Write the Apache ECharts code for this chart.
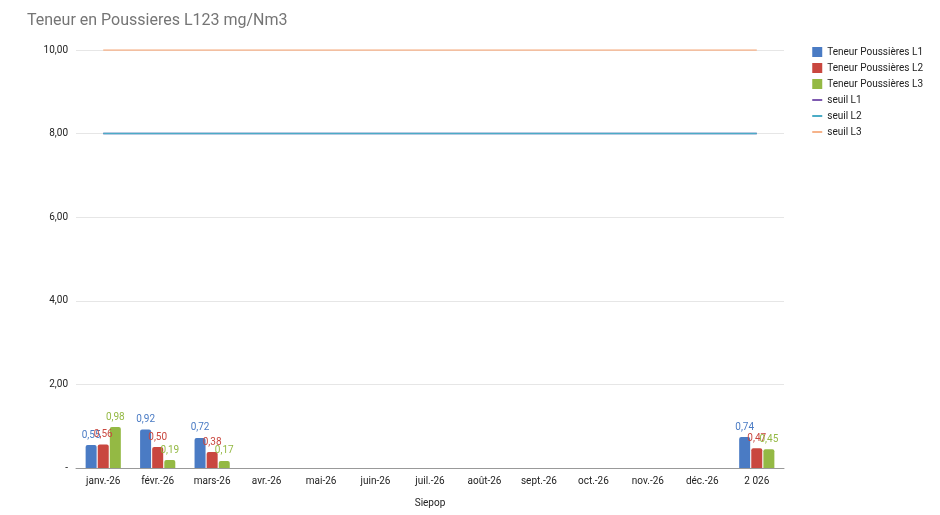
<!DOCTYPE html>
<html>
<head>
<meta charset="utf-8">
<script src="https://cdn.jsdelivr.net/npm/echarts@6/dist/echarts.min.js"></script>
<style>html,body{margin:0;padding:0;background:#fff}#main{width:940px;height:515px}</style>
</head>
<body>
<div id="main"></div>
<script>
const categories = ['janv.-26', 'févr.-26', 'mars-26', 'avr.-26', 'mai-26', 'juin-26', 'juil.-26', 'août-26', 'sept.-26', 'oct.-26', 'nov.-26', 'déc.-26', '2 026'];
const dustL1 = [0.55, 0.92, 0.72, null, null, null, null, null, null, null, null, null, 0.74];
const dustL2 = [0.56, 0.50, 0.38, null, null, null, null, null, null, null, null, null, 0.47];
const dustL3 = [0.98, 0.19, 0.17, null, null, null, null, null, null, null, null, null, 0.45];
const seuilL1 = [8, 8, 8, 8, 8, 8, 8, 8, 8, 8, 8, 8, 8];
const seuilL2 = [8, 8, 8, 8, 8, 8, 8, 8, 8, 8, 8, 8, 8];
const seuilL3 = [10, 10, 10, 10, 10, 10, 10, 10, 10, 10, 10, 10, 10];

const fmt = v => v.toFixed(2).replace('.', ',');
const font = 'Roboto, Arial, sans-serif';

function barSeries(name, data, color) {
    return {
        name: name, type: 'bar', data: data, barWidth: 11, barGap: '10%',
        itemStyle: { color: color, borderRadius: [2, 2, 0, 0] },
        label: {
            show: true, position: 'top', color: color, fontSize: 10, fontFamily: font,
            formatter: p => fmt(p.value)
        }
    };
}
function lineSeries(name, data, color) {
    return {
        name: name, type: 'line', data: data, symbol: 'none',
        lineStyle: { color: color, width: 1.5 }, itemStyle: { color: color }
    };
}

var chart = echarts.init(document.getElementById('main'));
chart.setOption({
    animation: false,
    title: {
        text: 'Teneur en Poussieres L123 mg/Nm3', left: 22, top: 8,
        textStyle: { color: '#757575', fontSize: 16, fontWeight: 'normal', fontFamily: font }
    },
    legend: {
        orient: 'vertical', right: 12, top: 42, itemWidth: 10, itemHeight: 10, itemGap: 6,
        textStyle: { fontSize: 10, color: '#222', fontFamily: font },
        data: [
            { name: 'Teneur Poussières L1', icon: 'rect' },
            { name: 'Teneur Poussières L2', icon: 'rect' },
            { name: 'Teneur Poussières L3', icon: 'rect' },
            { name: 'seuil L1', icon: 'path://M0,4h10v2h-10z' },
            { name: 'seuil L2', icon: 'path://M0,4h10v2h-10z' },
            { name: 'seuil L3', icon: 'path://M0,4h10v2h-10z' }
        ]
    },
    grid: { left: 76, right: 156, top: 50, bottom: 47 },
    xAxis: {
        type: 'category', data: categories, name: 'Siepop', nameLocation: 'middle', nameGap: 30,
        nameTextStyle: { fontSize: 10, color: '#222', fontFamily: font },
        axisTick: { show: false },
        axisLine: { lineStyle: { color: '#999' } },
        axisLabel: { fontSize: 10, color: '#222', fontFamily: font }
    },
    yAxis: {
        type: 'value', min: 0, max: 10, interval: 2,
        axisLabel: { fontSize: 10, color: '#222', fontFamily: font, formatter: v => v === 0 ? '-' : fmt(v) },
        splitLine: { lineStyle: { color: '#e6e6e6' } }
    },
    series: [
        barSeries('Teneur Poussières L1', dustL1, '#4a7bc4'),
        barSeries('Teneur Poussières L2', dustL2, '#c9473f'),
        barSeries('Teneur Poussières L3', dustL3, '#94b944'),
        lineSeries('seuil L1', seuilL1, '#7e5ab0'),
        lineSeries('seuil L2', seuilL2, '#4bacc6'),
        lineSeries('seuil L3', seuilL3, '#f6b38a')
    ]
});
</script>
</body>
</html>
